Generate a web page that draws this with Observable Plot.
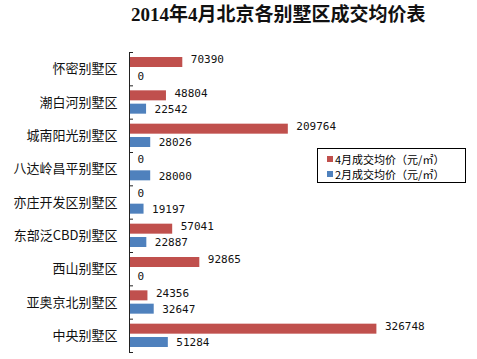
<!DOCTYPE html>
<html>
<head>
<meta charset="utf-8">
<script src="https://cdn.jsdelivr.net/npm/d3@7"></script>
<script src="https://cdn.jsdelivr.net/npm/@observablehq/plot@0.6"></script>
<style>
  html, body { margin: 0; padding: 0; background: #fff; }
  #wrap { position: relative; width: 477px; height: 359px; overflow: hidden; }
  #title { position: absolute; left: 131px; top: 4px; font-family: "Liberation Serif", "Noto Sans CJK SC", serif; font-weight: bold; font-size: 19px; line-height: 21px; color: #111; white-space: nowrap; }
  #legend { position: absolute; left: 317px; top: 148px; width: 149px; height: 35px; box-sizing: border-box; border: 1px solid #000; background: #fff; font-family: "Noto Sans CJK SC", sans-serif; font-size: 11px; color: #000; padding: 2px 0 0 9px; }
  #legend .item { display: flex; align-items: center; height: 15px; white-space: nowrap; }
  #legend .sw { width: 6px; height: 6px; margin-right: 2px; }
</style>
</head>
<body>
<div id="wrap">
  <div id="title"></div>
  <div id="chart"></div>
  <div id="legend"></div>
</div>
<script>
const titleText = "2014年4月北京各别墅区成交均价表";
const categories = ["怀密别墅区", "潮白河别墅区", "城南阳光别墅区", "八达岭昌平别墅区", "亦庄开发区别墅区", "东部泛CBD别墅区", "西山别墅区", "亚奥京北别墅区", "中央别墅区"];
const aprilValues = [70390, 48804, 209764, 0, 0, 57041, 92865, 24356, 326748];
const febValues = [0, 22542, 28026, 28000, 19197, 22887, 0, 32647, 51284];
const seriesNames = ["4月成交均价（元/㎡）", "2月成交均价（元/㎡）"];
const seriesColors = ["#C0504D", "#4F81BD"];

document.getElementById("title").textContent = titleText;

const rows = [];
categories.forEach((c, i) => {
  rows.push({cat: c, i, s: 0, value: aprilValues[i]});
  rows.push({cat: c, i, s: 1, value: febValues[i]});
});

const W = 477, H = 359, mL = 129, mR = 83, mT = 52, mB = 7;
const xMax = 350000;
const pxPerUnit = (W - mL - mR) / xMax;
const tickLen = 4 / pxPerUnit;

const chart = Plot.plot({
  width: W,
  height: H,
  marginLeft: mL,
  marginRight: mR,
  marginTop: mT,
  marginBottom: mB,
  style: {background: "transparent", overflow: "visible"},
  x: {domain: [0, xMax], axis: null},
  y: {domain: [0, categories.length], reverse: true, axis: null},
  marks: [
    Plot.rect(rows.filter(d => d.value > 0), {
      x1: () => 0, x2: "value",
      y1: d => d.i + (d.s === 0 ? 0.15 : 0.55),
      y2: d => d.i + (d.s === 0 ? 0.45 : 0.85),
      fill: d => seriesColors[d.s]
    }),
    Plot.ruleX([0], {y1: 0, y2: categories.length, stroke: "#222", strokeWidth: 1}),
    Plot.ruleY(d3.range(categories.length + 1), {x1: 0, x2: tickLen, stroke: "#222", strokeWidth: 1}),
    Plot.text(categories, {
      x: 0, y: (d, i) => i + 0.5, text: d => d,
      dx: -12, textAnchor: "end",
      fontFamily: "Noto Sans CJK SC", fontSize: 13, fill: "#111"
    }),
    Plot.text(rows, {
      x: "value", y: d => d.i + (d.s === 0 ? 0.22 : 0.71),
      text: d => String(d.value),
      dx: 8, textAnchor: "start",
      fontFamily: "DejaVu Sans Mono", fontSize: 11, fill: "#111"
    })
  ]
});
document.getElementById("chart").appendChild(chart);

const legend = document.getElementById("legend");
seriesNames.forEach((name, k) => {
  const item = document.createElement("div");
  item.className = "item";
  const sw = document.createElement("span");
  sw.className = "sw";
  sw.style.background = seriesColors[k];
  const t = document.createElement("span");
  t.textContent = name;
  item.appendChild(sw);
  item.appendChild(t);
  legend.appendChild(item);
});
</script>
</body>
</html>
